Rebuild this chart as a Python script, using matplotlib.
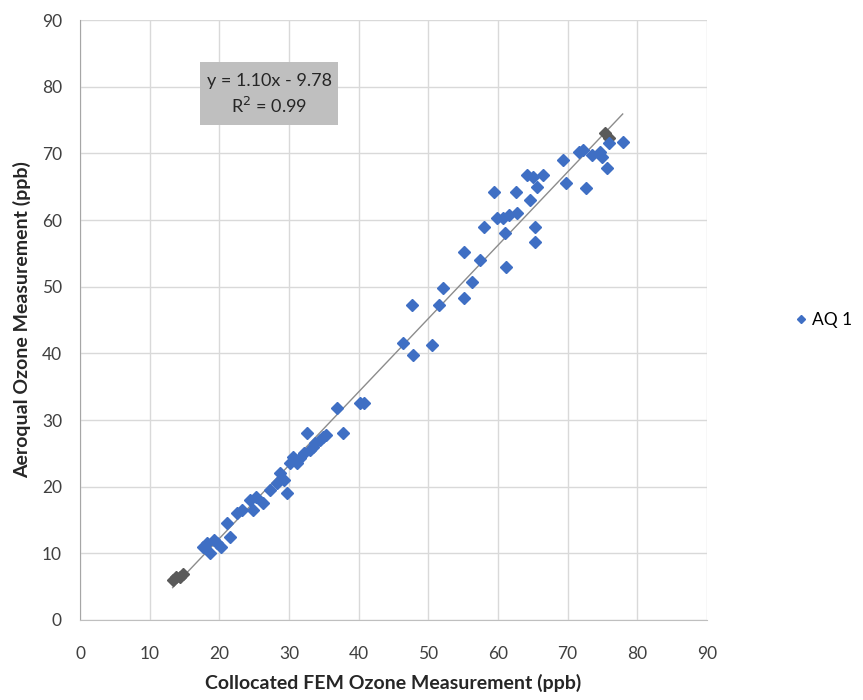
import matplotlib
matplotlib.use("Agg")
import matplotlib.pyplot as plt
from matplotlib.patches import Rectangle
import numpy as np

plt.rcParams['font.family'] = ['Lato', 'DejaVu Sans']

# AQ 1 series (FEM x, Aeroqual y)
fem = [17.6, 18.2, 18.7, 19.2, 19.7, 20.2, 21.1, 21.5, 22.5, 23.2, 24.4, 24.8, 25.2, 26.3,
       27.3, 28.3, 28.7, 29.7, 29.3, 30.1, 30.6, 31.1, 31.6, 32.1, 32.6, 33.4, 33.0, 33.8,
       34.4, 34.9, 35.3, 36.9, 37.7, 40.2, 40.8,
       46.3, 47.6, 47.8, 50.6, 51.6, 52.1, 55.1, 55.1, 56.2, 57.4, 58.0, 59.5, 59.8, 60.7,
       61.0, 61.2, 61.6, 62.6, 62.7, 64.1, 64.6, 65.0, 65.3, 65.3, 65.6, 66.4,
       69.3, 69.8, 71.7, 72.2, 72.7, 73.5, 74.6, 75.0, 75.6, 76.0, 77.9]
aq = [11.0, 11.5, 10.0, 12.0, 11.5, 11.0, 14.5, 12.4, 16.0, 16.5, 18.0, 16.5, 18.5, 17.5,
      19.5, 20.5, 22.0, 19.0, 21.0, 23.5, 24.5, 23.5, 24.3, 25.0, 28.0, 26.0, 25.5, 26.5,
      27.0, 27.4, 27.8, 31.8, 28.0, 32.5, 32.5,
      41.5, 47.2, 39.8, 41.2, 47.2, 49.8, 48.3, 55.2, 50.7, 54.0, 58.9, 64.2, 60.3, 60.3,
      58.0, 53.0, 60.8, 64.2, 61.0, 66.7, 63.0, 66.4, 59.0, 56.7, 65.0, 66.7,
      69.0, 65.6, 70.2, 70.5, 64.8, 69.7, 70.2, 69.5, 67.8, 71.5, 71.7]

# grey points (second, unlabelled series)
fem_grey = [13.3, 13.8, 14.3, 14.8, 75.3, 75.9]
aq_grey = [6.0, 6.5, 6.4, 6.9, 73.0, 72.3]

slope, intercept = 1.10, -9.78
eq_text = "y = 1.10x - 9.78\nR$^2$ = 0.99"

xticks = list(range(0, 91, 10))
yticks = list(range(0, 91, 10))

fig = plt.figure(figsize=(8.63, 7.0), dpi=100)
ax = fig.add_axes([0.0927, 0.1143, 0.7265, 0.857])

ax.set_xlim(0, 90)
ax.set_ylim(0, 90)
ax.set_xticks(xticks)
ax.set_yticks(yticks)
ax.grid(True, color='#d9d9d9', linewidth=1.0)
ax.set_axisbelow(True)
for s in ['top', 'right']:
    ax.spines[s].set_visible(False)
ax.spines['left'].set_color('#a6a6a6')
ax.spines['bottom'].set_color('#bfbfbf')
ax.tick_params(axis='both', length=0, labelsize=12.5, colors='#404040')
ax.tick_params(axis='x', pad=19)
ax.tick_params(axis='y', pad=13)

allx = fem + fem_grey
xs = np.array([min(allx), max(allx)])
ax.plot(xs, slope * xs + intercept, color='#8c8c8c', linewidth=1.0, zorder=2)

ax.plot(fem_grey, aq_grey, linestyle='none', marker='D', markersize=6,
        color='#5a5a5a', zorder=3)
ax.plot(fem, aq, linestyle='none', marker='D', markersize=6,
        color='#3f6fc4', label='AQ 1', zorder=4)

# equation box
ax.add_patch(Rectangle((0.191, 0.825), 0.221, 0.105, transform=ax.transAxes,
                       facecolor='#bfbfbf', edgecolor='none', zorder=5))
ax.text(0.3015, 0.876, eq_text, transform=ax.transAxes, ha='center', va='center',
        fontsize=13, color='#262626', linespacing=1.45, zorder=6)

ax.set_xlabel('Collocated FEM Ozone Measurement (ppb)', fontsize=14, fontweight='bold',
              color='#262626', labelpad=8)
ax.set_ylabel('Aeroqual Ozone Measurement (ppb)', fontsize=14, fontweight='bold',
              color='#262626', labelpad=8)

leg = ax.legend(loc='center left', bbox_to_anchor=(1.12, 0.5), frameon=False,
                fontsize=12.5, handletextpad=0.1, markerscale=0.75, handlelength=1.0,
                borderaxespad=0.2)

fig.savefig('out.png', dpi=100, facecolor='white')
